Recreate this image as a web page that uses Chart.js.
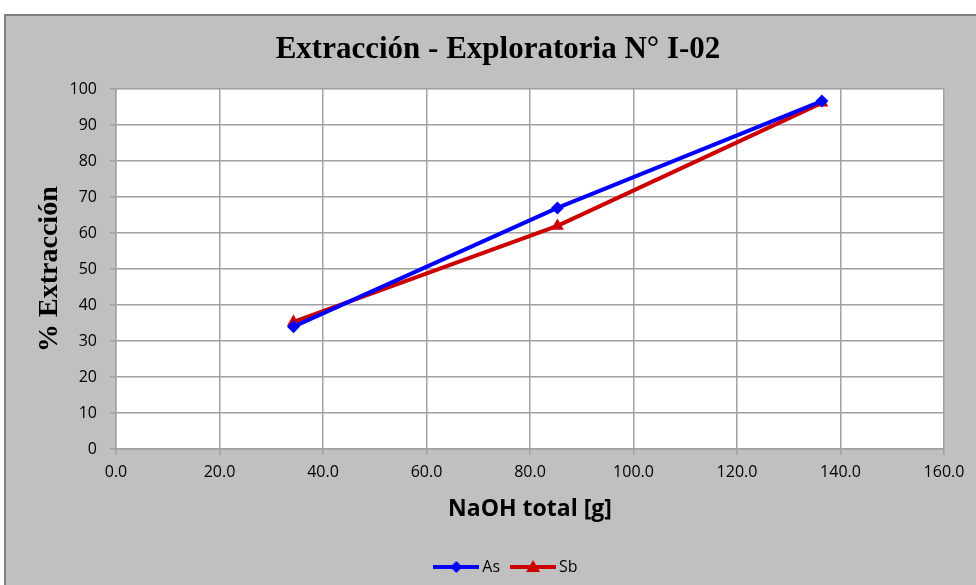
<!DOCTYPE html>
<html lang="es">
<head>
  <meta charset="UTF-8" />
  <title>Extracción - Exploratoria N° I-02</title>
  <script src="https://cdn.jsdelivr.net/npm/chart.js"></script>
  <style>
    html, body {
      margin: 0;
      padding: 0;
      background: #ffffff;
    }
    #wrap {
      width: 976px;
      height: 585px;
    }
  </style>
</head>
<body>
  <div id="wrap"><canvas id="chart" width="976" height="585"></canvas></div>

  <script>
    // values
    const naohTotal = [34.3, 85.3, 136.4];
    const extAs = [34.0, 67.0, 96.7];
    const extSb = [35.3, 62.0, 96.2];
    const seriesNames = ['As', 'Sb'];

    function legendIcon(color, style) {
      const c = document.createElement('canvas');
      c.width = 46;
      c.height = 16;
      const g = c.getContext('2d');
      g.strokeStyle = color;
      g.fillStyle = color;
      g.lineWidth = 4;
      g.beginPath();
      g.moveTo(0, 8);
      g.lineTo(46, 8);
      g.stroke();
      g.beginPath();
      if (style === 'diamond') {
        g.moveTo(23, 2); g.lineTo(29, 8); g.lineTo(23, 14); g.lineTo(17, 8);
      } else {
        g.moveTo(23, 1); g.lineTo(30, 13); g.lineTo(16, 13);
      }
      g.closePath();
      g.fill();
      return c;
    }

    const background = {
      id: 'background',
      afterLayout(chart) {
        // title and legend sit right of the plot-area centre in the original
        chart.legend.left += 34;
        chart.legend.right += 34;
        chart.titleBlock.left += 24;
        chart.titleBlock.right += 24;
      },
      beforeDraw(chart) {
        const ctx = chart.ctx;
        const a = chart.chartArea;
        ctx.save();
        ctx.fillStyle = '#ffffff';
        ctx.fillRect(0, 0, chart.width, chart.height);
        ctx.fillStyle = '#c0c0c0';
        ctx.fillRect(4, 14, chart.width - 4, chart.height - 14);
        ctx.strokeStyle = '#808080';
        ctx.lineWidth = 2;
        ctx.beginPath();
        ctx.moveTo(5, chart.height);
        ctx.lineTo(5, 15);
        ctx.lineTo(chart.width, 15);
        ctx.stroke();
        ctx.fillStyle = '#ffffff';
        ctx.fillRect(a.left, a.top, a.right - a.left, a.bottom - a.top);
        ctx.restore();
      }
    };

    const icons = {
      As: legendIcon('#0000ff', 'diamond'),
      Sb: legendIcon('#cc0000', 'triangle')
    };

    new Chart(document.getElementById('chart'), {
      type: 'scatter',
      data: {
        datasets: [
          {
            label: seriesNames[0],
            data: naohTotal.map((x, i) => ({ x: x, y: extAs[i] })),
            showLine: true,
            borderColor: '#0000ff',
            backgroundColor: '#0000ff',
            borderWidth: 4,
            pointStyle: 'rectRot',
            pointRadius: 6.5,
            pointBorderWidth: 0
          },
          {
            label: seriesNames[1],
            data: naohTotal.map((x, i) => ({ x: x, y: extSb[i] })),
            showLine: true,
            borderColor: '#cc0000',
            backgroundColor: '#cc0000',
            borderWidth: 4,
            pointStyle: 'triangle',
            pointRadius: 7.5,
            pointBorderWidth: 0
          }
        ]
      },
      options: {
        responsive: false,
        animation: false,
        layout: {
          padding: { top: 14, left: 4, right: 32, bottom: 0 }
        },
        plugins: {
          title: {
            display: true,
            text: 'Extracción - Exploratoria N° I-02',
            color: '#000000',
            font: { family: '"Liberation Serif", serif', size: 31, weight: 'bold' },
            padding: { top: 17, bottom: 21 }
          },
          legend: {
            position: 'bottom',
            labels: {
              usePointStyle: true,
              pointStyleWidth: 36,
              boxHeight: 16,
              color: '#000000',
              font: { family: '"Open Sans", sans-serif', size: 16 },
              padding: 15,
              generateLabels(chart) {
                return chart.data.datasets.map((d, i) => ({
                  text: d.label,
                  pointStyle: icons[d.label],
                  fillStyle: d.borderColor,
                  strokeStyle: d.borderColor,
                  lineWidth: 0,
                  fontColor: '#000000',
                  hidden: false,
                  datasetIndex: i
                }));
              }
            }
          },
          tooltip: { enabled: false }
        },
        scales: {
          x: {
            type: 'linear',
            min: 0,
            max: 160,
            afterFit(s) { s.height = 95; },
            ticks: {
              stepSize: 20,
              color: '#000000',
              font: { family: '"Open Sans", sans-serif', size: 16 },
              padding: 8,
              callback: v => v.toFixed(1)
            },
            grid: { color: '#a0a0a0', lineWidth: 1.5, tickLength: 6 },
            border: { color: '#a0a0a0', width: 1.5 },
            title: {
              display: true,
              text: 'NaOH total [g]',
              color: '#000000',
              font: { family: '"Open Sans", sans-serif', size: 23, weight: 'bold' },
              padding: { top: 0, bottom: 21 }
            }
          },
          y: {
            min: 0,
            max: 100,
            afterFit(s) { s.width = 112; },
            ticks: {
              stepSize: 10,
              color: '#000000',
              font: { family: '"Open Sans", sans-serif', size: 16 },
              padding: 13
            },
            grid: { color: '#a0a0a0', lineWidth: 1.5, tickLength: 6 },
            border: { color: '#a0a0a0', width: 1.5 },
            title: {
              display: true,
              text: '% Extracción',
              color: '#000000',
              font: { family: '"Liberation Serif", serif', size: 28, weight: 'bold' },
              padding: { top: 29, bottom: 0 }
            }
          }
        }
      },
      plugins: [background]
    });
  </script>
</body>
</html>
